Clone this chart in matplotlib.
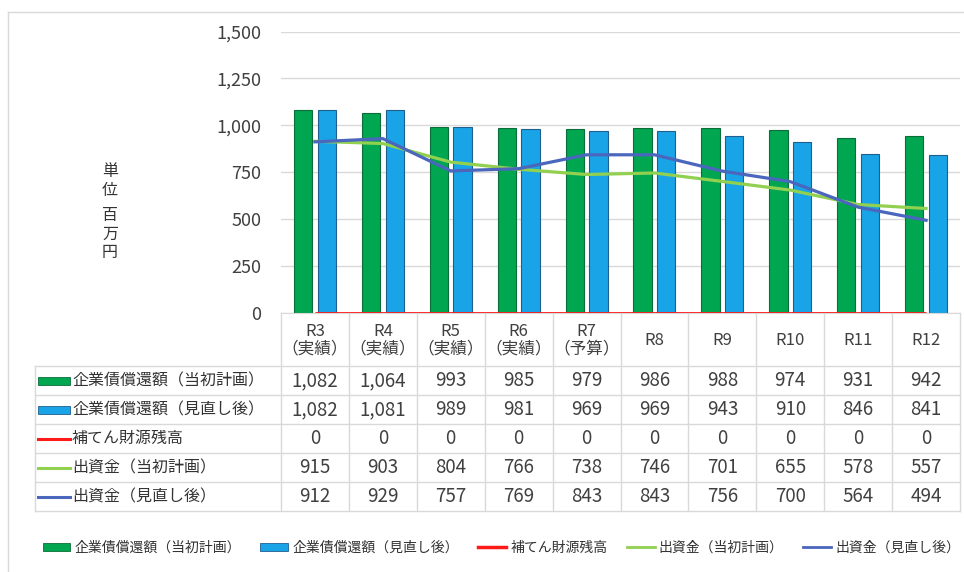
import matplotlib
matplotlib.use('Agg')
import matplotlib.pyplot as plt
import matplotlib.transforms as mtransforms
from matplotlib.patches import Rectangle, Patch
from matplotlib.lines import Line2D

plt.rcParams['font.family'] = ['Noto Sans CJK JP', 'DejaVu Sans']

# データ
years = ['R3', 'R4', 'R5', 'R6', 'R7', 'R8', 'R9', 'R10', 'R11', 'R12']
notes = ['（実績）', '（実績）', '（実績）', '（実績）', '（予算）', '', '', '', '', '']
bond_plan = [1082, 1064, 993, 985, 979, 986, 988, 974, 931, 942]
bond_rev = [1082, 1081, 989, 981, 969, 969, 943, 910, 846, 841]
reserve = [0, 0, 0, 0, 0, 0, 0, 0, 0, 0]
capital_plan = [915, 903, 804, 766, 738, 746, 701, 655, 578, 557]
capital_rev = [912, 929, 757, 769, 843, 843, 756, 700, 564, 494]

names = ['企業債償還額（当初計画）', '企業債償還額（見直し後）', '補てん財源残高',
         '出資金（当初計画）', '出資金（見直し後）']
colors = ['#00a650', '#18a4e6', '#ff1a1a', '#92d050', '#4a66bd']
edges = ['#0b6e3a', '#1f5f8f']

W, H = 964, 572
fig = plt.figure(figsize=(W / 100, H / 100), dpi=100)

# 背景（表・枠）用の座標はピクセル
bg = fig.add_axes([0, 0, 1, 1])
bg.set_xlim(0, W)
bg.set_ylim(H, 0)
bg.axis('off')

left, right, y0, y1 = 281, 960, 313, 31.5
ax = fig.add_axes([left / W, (H - y0) / H, (right - left) / W, (y0 - y1) / H])
ax.set_facecolor('none')

x = list(range(len(years)))
bw = 0.27
ax.bar([i - 0.175 for i in x], bond_plan, bw, color=colors[0], edgecolor=edges[0], linewidth=0.8, zorder=2)
ax.bar([i + 0.175 for i in x], bond_rev, bw, color=colors[1], edgecolor=edges[1], linewidth=0.8, zorder=2)
ax.plot(x, reserve, color=colors[2], lw=2, zorder=3, solid_capstyle='butt')
ax.plot(x, capital_plan, color=colors[3], lw=2.3, zorder=3)
ax.plot(x, capital_rev, color=colors[4], lw=2.3, zorder=4)

ax.set_xlim(-0.5, len(years) - 0.5)
ax.set_ylim(0, 1500)
ax.set_yticks(range(0, 1501, 250))
ax.set_yticklabels([f'{v:,}' for v in range(0, 1501, 250)])
ax.tick_params(axis='y', length=0, pad=14, labelsize=13, labelcolor='#404040')
ax.set_xticks([])
ax.yaxis.grid(True, color='#d9d9d9', lw=1)
ax.set_axisbelow(True)
for s in ['top', 'right', 'left']:
    ax.spines[s].set_visible(False)
ax.spines['bottom'].set_color('#d9d9d9')

# y軸ラベル（縦書き）
bg.text(110, 181, '単\n位', ha='center', va='center', fontsize=11.5, linespacing=1.1, color='#333333')
bg.text(110, 234, '百\n万\n円', ha='center', va='center', fontsize=11.5, linespacing=1.1, color='#333333')

# 外枠
gray = '#d9d9d9'
bg.plot([8, W], [12, 12], color=gray, lw=1)
bg.plot([8, 8], [12, H], color=gray, lw=1)

# データテーブル
tr = mtransforms.blended_transform_factory(ax.transData, bg.transData)
row_top = 366
row_h = 29
n_rows = 5
tab_bottom = row_top + row_h * n_rows
for i in range(len(years) + 1):
    bg.plot([i - 0.5, i - 0.5], [y0, tab_bottom], color=gray, lw=1, transform=tr)
for r in range(n_rows + 1):
    yy = row_top + row_h * r
    bg.plot([35, right], [yy, yy], color=gray, lw=1)
bg.plot([35, 35], [row_top, tab_bottom], color=gray, lw=1)

for i, (yr, nt) in enumerate(zip(years, notes)):
    label = yr + '\n' + nt if nt else yr
    bg.text(i, (y0 + row_top) / 2 + 1, label, ha='center', va='center', fontsize=12,
            linespacing=1.05, color='#404040', transform=tr)

series = [bond_plan, bond_rev, reserve, capital_plan, capital_rev]
for r, (vals, name, c) in enumerate(zip(series, names, colors)):
    yc = row_top + row_h * (r + 0.5)
    if r < 2:
        bg.add_patch(Rectangle((38, yc - 4), 32, 8, facecolor=c, edgecolor=edges[r], lw=0.6))
    else:
        bg.plot([38, 70], [yc, yc], color=c, lw=2.2)
    bg.text(72, yc, name, ha='left', va='center', fontsize=11.5, color='#333333')
    for i, v in enumerate(vals):
        bg.text(i, yc, f'{v:,}', ha='center', va='center', fontsize=13.5, color='#404040', transform=tr)

# 凡例
handles = [
    Patch(facecolor=colors[0], edgecolor=edges[0], lw=0.6),
    Patch(facecolor=colors[1], edgecolor=edges[1], lw=0.6),
    Line2D([], [], color=colors[2], lw=2.5),
    Line2D([], [], color=colors[3], lw=2),
    Line2D([], [], color=colors[4], lw=2),
]
fig.legend(handles, names, loc='center', bbox_to_anchor=(0.52, 1 - 548 / H), ncol=5,
           frameon=False, fontsize=10, handlelength=2.0, handleheight=0.55,
           handletextpad=0.3, columnspacing=1.4, labelcolor='#333333')

plt.savefig('out.png', dpi=100)
